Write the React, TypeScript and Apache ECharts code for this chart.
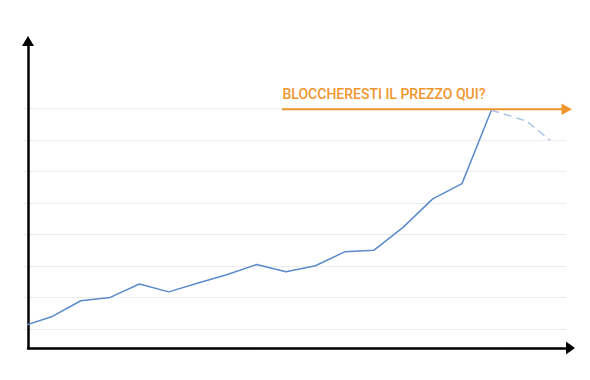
import React, { useEffect, useRef } from "react";
import * as echarts from "echarts";

// x positions in category units (index of period); last two are the dashed projection
const xSolid = [0, 1, 2, 3, 4, 5, 6, 7, 8, 9, 10, 11, 12, 13, 14, 15, 16];
const ySolid = [0.9, 3.9, 9.0, 10.05, 14.3, 11.8, 14.6, 17.3, 20.5, 18.2, 20.1, 24.5, 25.05, 32.35, 41.3, 46.15, 69.45];
const xDashed = [16, 17.2, 18];
const yDashed = [69.45, 66.0, 59.9];
const gridTicks = [0, 10, 20, 30, 40, 50, 60, 70];
const annotation = "BLOCCHERESTI IL PREZZO QUI?";

const BLUE = "#5B8BCB";
const LIGHT_BLUE = "#A9C3E6";
const ORANGE = "#F0962E";

export default function App() {
  const ref = useRef<HTMLDivElement>(null);
  useEffect(() => {
    if (!ref.current) return;
    const chart = echarts.init(ref.current, undefined, { renderer: "svg" });
    const option: any = {
      animation: false,
      backgroundColor: "#ffffff",
      grid: [
        // grid 0: gridlines only
        { left: 24, right: 24, top: 108.5, bottom: 51, containLabel: false },
        // grid 1: axes with arrows + data
        { left: 28, right: 19.5, top: 41, bottom: 32, containLabel: false },
      ],
      xAxis: [
        { gridIndex: 0, type: "value", min: 0, max: 1, show: false },
        {
          gridIndex: 1,
          type: "value",
          min: 0.2,
          max: 18.7,
          axisLine: {
            show: true,
            onZero: false,
            symbol: ["none", "triangle"],
            symbolSize: [13, 9],
            lineStyle: { color: "#000", width: 2.5 },
          },
          axisTick: { show: false },
          axisLabel: { show: false },
          splitLine: { show: false },
        },
      ],
      yAxis: [
        {
          gridIndex: 0,
          type: "value",
          min: gridTicks[0],
          max: gridTicks[gridTicks.length - 1],
          interval: 10,
          axisLine: { show: false },
          axisTick: { show: false },
          axisLabel: { show: false },
          splitLine: { show: true, lineStyle: { color: "#ECECEC", width: 1 } },
        },
        {
          gridIndex: 1,
          type: "value",
          min: -6,
          max: 91.4,
          axisLine: {
            show: true,
            onZero: false,
            symbol: ["none", "triangle"],
            symbolSize: [12, 10],
            lineStyle: { color: "#000", width: 2.5 },
          },
          axisTick: { show: false },
          axisLabel: { show: false },
          splitLine: { show: false },
        },
      ],
      series: [
        {
          type: "line",
          xAxisIndex: 1,
          yAxisIndex: 1,
          data: xSolid.map((x, i) => [x, ySolid[i]]),
          showSymbol: false,
          symbol: "none",
          lineStyle: { color: BLUE, width: 1.5 },
          z: 1,
        },
        {
          type: "line",
          xAxisIndex: 1,
          yAxisIndex: 1,
          data: xDashed.map((x, i) => [x, yDashed[i]]),
          showSymbol: false,
          symbol: "none",
          lineStyle: { color: LIGHT_BLUE, width: 1.5, type: [8, 5] },
          z: 1,
        },
      ],
      graphic: [
        {
          type: "line",
          shape: { x1: 282, y1: 109.3, x2: 563, y2: 109.3 },
          style: { stroke: ORANGE, lineWidth: 2 },
          z: 10,
        },
        {
          type: "polygon",
          shape: { points: [[561.5, 103.5], [572, 109.3], [561.5, 115.1]] },
          style: { fill: ORANGE },
          z: 10,
        },
        {
          type: "text",
          x: 282.5,
          y: 100.7,
          style: {
            text: annotation,
            fill: ORANGE,
            font: "500 14px Roboto",
            textVerticalAlign: "bottom",
            verticalAlign: "bottom",
          },
          z: 10,
        },
      ],
    };
    chart.setOption(option);
    return () => chart.dispose();
  }, []);
  return <div ref={ref} style={{ width: 590, height: 380, position: "absolute", left: 0, top: 0 }} />;
}
